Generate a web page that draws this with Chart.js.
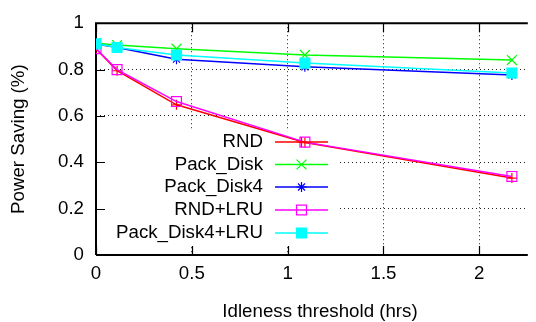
<!DOCTYPE html>
<html>
<head>
<meta charset="utf-8">
<script src="https://cdn.jsdelivr.net/npm/chart.js@4/dist/chart.umd.min.js"></script>
<style>
  html, body { margin: 0; padding: 0; background: #fff; }
  canvas { display: block; }
</style>
</head>
<body>
<canvas id="savingChart" width="536" height="322"></canvas>
<script>
// idleness threshold in hours
const thresholds = [0, 0.11, 0.42, 1.09, 2.17];

const rnd = [0.89, 0.795, 0.648, 0.485, 0.332];
const packDisk = [0.914, 0.906, 0.89, 0.863, 0.841];
const packDisk4 = [0.91, 0.895, 0.845, 0.812, 0.777];
const rndLru = [0.89, 0.80, 0.662, 0.487, 0.339];
const packDisk4Lru = [0.911, 0.895, 0.863, 0.828, 0.785];

const seriesNames = ['RND', 'Pack_Disk', 'Pack_Disk4', 'RND+LRU', 'Pack_Disk4+LRU'];
const xTicks = [0, 0.5, 1, 1.5, 2];
const yTicks = [0, 0.2, 0.4, 0.6, 0.8, 1];

const FONT = '"Liberation Sans", Arial, sans-serif';
const FSIZE = 18.7;

const styles = [
  { color: '#ff0000', point: 'cross', radius: 5, fill: false },
  { color: '#00ff00', point: 'crossRot', radius: 7, fill: false },
  { color: '#0000ff', point: 'star', radius: 5, fill: false },
  { color: '#ff00ff', point: 'rect', radius: 7, fill: false },
  { color: '#00ffff', point: 'rect', radius: 7, fill: true }
];

const values = [rnd, packDisk, packDisk4, rndLru, packDisk4Lru];

const datasets = values.map((vals, i) => ({
  label: seriesNames[i],
  data: vals.map((v, j) => ({ x: thresholds[j], y: v })),
  borderColor: styles[i].color,
  backgroundColor: styles[i].fill ? styles[i].color : 'rgba(0,0,0,0)',
  pointBorderColor: styles[i].color,
  pointBackgroundColor: styles[i].fill ? styles[i].color : 'rgba(0,0,0,0)',
  pointStyle: styles[i].point,
  pointRadius: styles[i].radius,
  pointBorderWidth: 1.2,
  borderWidth: 1.5,
  tension: 0,
  order: values.length - i   // later series on top, like gnuplot
}));

// gnuplot-ish frame: inward ticks, solid top border, white key box, titles
const framePlugin = {
  id: 'frame',
  beforeDatasetsDraw(chart) {
    const ctx = chart.ctx;
    const x = chart.scales.x, y = chart.scales.y;
    const a = chart.chartArea;
    ctx.save();
    // key background
    ctx.fillStyle = '#fff';
    ctx.fillRect(a.left + 4, 130, 338 - a.left - 4, 116);
    // borders + ticks
    ctx.strokeStyle = '#000';
    ctx.lineWidth = 2;
    ctx.beginPath();
    ctx.moveTo(a.left, a.bottom); ctx.lineTo(a.left, a.top); ctx.lineTo(a.right, a.top);
    ctx.moveTo(a.left, a.bottom); ctx.lineTo(a.right, a.bottom);
    ctx.stroke();
    ctx.lineWidth = 1.2;
    ctx.beginPath();
    yTicks.forEach(v => {
      const py = Math.round(y.getPixelForValue(v)) + 0.5;
      ctx.moveTo(a.left, py); ctx.lineTo(a.left + 9, py);
    });
    xTicks.forEach(v => {
      const px = Math.round(x.getPixelForValue(v)) + 0.5;
      ctx.moveTo(px, a.bottom); ctx.lineTo(px, a.bottom - 9);
      ctx.moveTo(px, a.top); ctx.lineTo(px, a.top + 9);
    });
    ctx.stroke();
    ctx.restore();
  },
  afterDatasetsDraw(chart) {
    const ctx = chart.ctx;
    const a = chart.chartArea;
    ctx.save();
    ctx.font = FSIZE + 'px ' + FONT;
    ctx.fillStyle = '#000';
    ctx.textBaseline = 'middle';
    const rows = [142, 164.5, 187, 210, 233];
    seriesNames.forEach((name, i) => {
      const ry = rows[i];
      ctx.textAlign = 'right';
      ctx.fillStyle = '#000';
      ctx.fillText(name, 263, ry);
      const st = styles[i];
      ctx.strokeStyle = st.color;
      ctx.lineWidth = 1.5;
      ctx.beginPath();
      ctx.moveTo(275, ry); ctx.lineTo(328, ry);
      ctx.stroke();
      ctx.fillStyle = st.fill ? st.color : 'rgba(0,0,0,0)';
      ctx.lineWidth = 1.2;
      Chart.helpers.drawPoint(ctx, { pointStyle: st.point, radius: st.radius, borderWidth: 1.2 }, 301.5, ry);
    });
    // axis titles
    ctx.fillStyle = '#000';
    ctx.textAlign = 'center';
    ctx.fillText('Idleness threshold (hrs)', 320, 312);
    ctx.translate(19, (a.top + a.bottom) / 2);
    ctx.rotate(-Math.PI / 2);
    ctx.fillText('Power Saving (%)', 0, 0);
    ctx.restore();
  }
};

new Chart(document.getElementById('savingChart').getContext('2d'), {
  type: 'line',
  data: { datasets },
  options: {
    responsive: false,
    animation: false,
    layout: { padding: { top: 22, right: 0, left: 0, bottom: 0 } },
    plugins: {
      legend: { display: false },
      tooltip: { enabled: false }
    },
    scales: {
      x: {
        type: 'linear',
        min: 0,
        max: 440 / 195.3,
        afterFit(s) { s.height = 67; },
        afterBuildTicks(s) { s.ticks = xTicks.map(v => ({ value: v })); },
        grid: { color: '#222', lineWidth: 1, drawTicks: false },
        border: { display: false, dash: [1, 3] },
        ticks: {
          padding: 8,
          color: '#000',
          font: { family: FONT, size: FSIZE },
          maxRotation: 0,
          callback: v => String(v)
        }
      },
      y: {
        type: 'linear',
        min: 0,
        max: 1,
        afterFit(s) { s.width = 96; },
        afterBuildTicks(s) { s.ticks = yTicks.map(v => ({ value: v })); },
        grid: { color: '#222', lineWidth: 1, drawTicks: false },
        border: { display: false, dash: [1, 3] },
        ticks: {
          padding: 12,
          color: '#000',
          font: { family: FONT, size: FSIZE },
          callback: v => String(Math.round(v * 10) / 10)
        }
      }
    }
  },
  plugins: [framePlugin]
});
</script>
</body>
</html>
